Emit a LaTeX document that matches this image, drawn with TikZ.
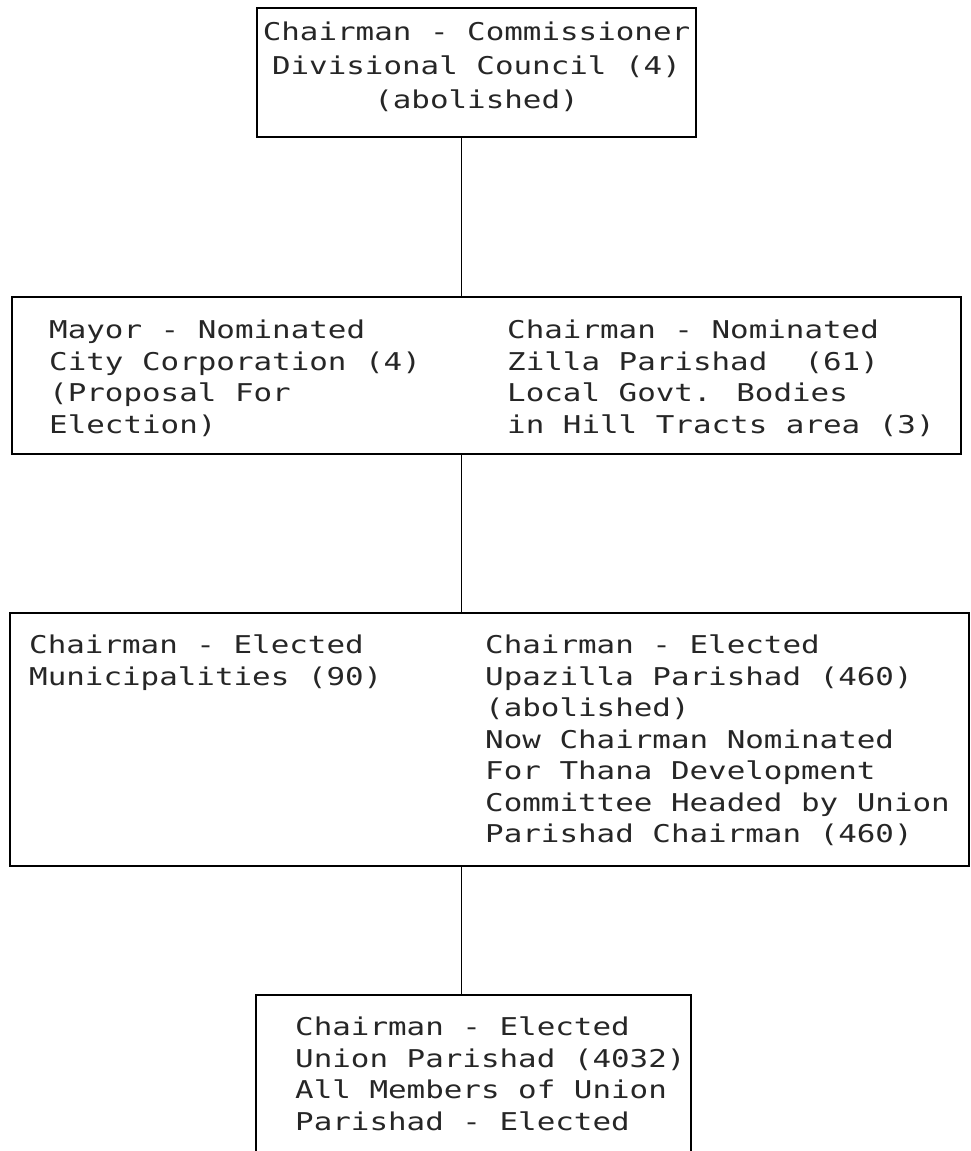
\documentclass[tikz,border=0pt]{standalone}
\usepackage{fontspec}
\newfontfamily\boxfont[FakeStretch=1.26]{DejaVu Sans Mono}
\begin{document}
\begin{tikzpicture}[x=1pt, y=-1pt,
		orgbox/.style={draw=black, line width=1.6pt, rectangle, inner sep=0pt},
		boxtext/.style={anchor=north west, inner sep=0pt, align=left, text=black!85,
			font=\boxfont\fontsize{24.5}{31.5}\selectfont},
		link/.style={draw=black, line width=1.6pt}]
		\useasboundingbox (0,0) rectangle (971,1151);
		
		% boxes
		\node[orgbox, minimum width=439pt, minimum height=129pt] (div) at (476.5, 72.5) {};
		\node[orgbox, minimum width=949pt, minimum height=157pt] (city) at (486.5, 375.5) {};
		\node[orgbox, minimum width=959pt, minimum height=253pt] (muni) at (489.5, 739.5) {};
		\node[orgbox, minimum width=435pt, minimum height=158pt] (union) at (473.5, 1074) {};
		
		% texts
		\node[boxtext, anchor=north, align=center] (divtext) at (476.5, 22) {Chairman - Commissioner\\[2.5pt] Divisional Council (4)\\[2.5pt] (abolished)};
		\node[boxtext] (citytext) at (49, 320) {Mayor - Nominated\\ City Corporation (4)\\ (Proposal For\\ Election)};
		\node[boxtext] (zillatext) at (507, 320) {Chairman - Nominated\\ Zilla Parishad\ \ (61)\\ Local Govt. Bodies\\ in Hill Tracts area (3)};
		\node[boxtext] (munitext) at (29, 635) {Chairman - Elected\\ Municipalities (90)};
		\node[boxtext] (upazillatext) at (485, 635) {Chairman - Elected\\ Upazilla Parishad (460)\\ (abolished)\\ Now Chairman Nominated\\ For Thana Development\\ Committee Headed by Union\\ Parishad Chairman (460)};
		\node[boxtext] (uniontext) at (295, 1017) {Chairman - Elected\\ Union Parishad (4032)\\ All Members of Union\\ Parishad - Elected};
		
		% connectors
		\coordinate (spine) at (461.5, 0);
		\draw[link] (div.south -| spine) -- (city.north -| spine);
		\draw[link] (city.south -| spine) -- (muni.north -| spine);
		\draw[link] (muni.south -| spine) -- (union.north -| spine);
		\end{tikzpicture}
\end{document}
